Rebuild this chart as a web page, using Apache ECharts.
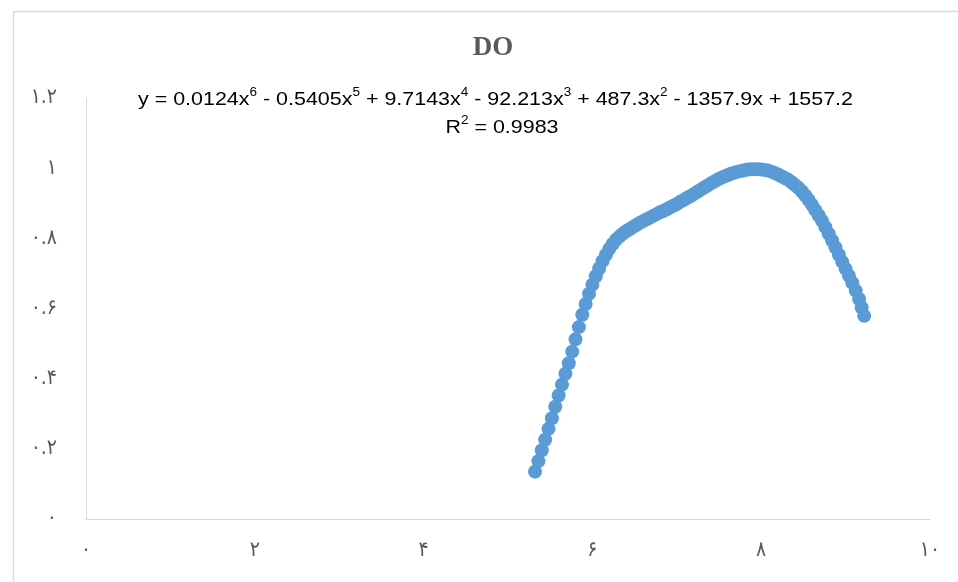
<!DOCTYPE html>
<html>
<head>
<meta charset="utf-8">
<script src="https://cdn.jsdelivr.net/npm/echarts@6/dist/echarts.min.js"></script>
<style>html,body{margin:0;padding:0;background:#fff}#c{width:958px;height:582px}</style>
</head>
<body>
<div id="c"></div>
<script>
var titleText = 'DO';
// trendline equation: [coefficient text, power] pairs
var eqTerms = [['y = 0.0124x', '6'], [' - 0.5405x', '5'], [' + 9.7143x', '4'], [' - 92.213x', '3'], [' + 487.3x', '2'], [' - 1357.9x + 1557.2', '']];
var r2Terms = [['R', '2'], [' = 0.9983', '']];
var xTicks = [0, 2, 4, 6, 8, 10];
var yTicks = [0, 0.2, 0.4, 0.6, 0.8, 1, 1.2];
var xValues = [5.32,5.36,5.40,5.44,5.48,5.52,5.56,5.60,5.64,5.68,5.72,5.76,5.80,5.84,5.88,5.92,5.96,6.00,6.04,6.08,6.12,6.16,6.20,6.24,6.28,6.32,6.36,6.40,6.44,6.48,6.52,6.56,6.60,6.64,6.68,6.72,6.76,6.80,6.84,6.88,6.92,6.96,7.00,7.04,7.08,7.12,7.16,7.20,7.24,7.28,7.32,7.36,7.40,7.44,7.48,7.52,7.56,7.60,7.64,7.68,7.72,7.76,7.80,7.84,7.88,7.92,7.96,8.00,8.04,8.08,8.12,8.16,8.20,8.24,8.28,8.32,8.36,8.40,8.44,8.48,8.52,8.56,8.60,8.64,8.68,8.72,8.76,8.80,8.84,8.88,8.92,8.96,9.00,9.04,9.08,9.12,9.16,9.19,9.22];
var doValues = [0.135,0.165,0.196,0.226,0.257,0.287,0.320,0.352,0.383,0.414,0.444,0.477,0.512,0.547,0.582,0.613,0.642,0.668,0.692,0.714,0.735,0.753,0.770,0.784,0.796,0.805,0.813,0.820,0.826,0.832,0.838,0.844,0.849,0.854,0.859,0.864,0.869,0.874,0.878,0.883,0.888,0.893,0.898,0.904,0.909,0.915,0.920,0.926,0.932,0.938,0.944,0.950,0.956,0.961,0.967,0.972,0.976,0.980,0.984,0.987,0.990,0.992,0.994,0.996,0.997,0.997,0.997,0.996,0.995,0.993,0.990,0.986,0.982,0.977,0.972,0.967,0.960,0.952,0.944,0.934,0.923,0.910,0.896,0.881,0.866,0.850,0.832,0.813,0.794,0.774,0.753,0.733,0.713,0.693,0.673,0.651,0.627,0.603,0.579];

var faDigits = ['۰','۱','۲','۳','۴','۵','۶','۷','۸','۹'];
function toFa(v){
  var s = String(Number(v.toFixed(2)));
  return s.replace(/[0-9]/g, function(d){ return faDigits[+d]; });
}
var points = xValues.map(function(x,i){ return [x, doValues[i]]; });

var MAIN = 19, SUP = 12, EQFONT = 'Liberation Sans';
var ctx = document.createElement('canvas').getContext('2d');
function richOf(terms){
  var s = '', w = 0;
  terms.forEach(function(t){
    s += '{m|' + t[0] + '}';
    ctx.font = MAIN + 'px "' + EQFONT + '"'; w += ctx.measureText(t[0]).width;
    if (t[1]) { s += '{s|' + t[1] + '}'; ctx.font = SUP + 'px "' + EQFONT + '"'; w += ctx.measureText(t[1]).width; }
  });
  return {text: s, width: w};
}
var eq = richOf(eqTerms), r2 = richOf(r2Terms);
var eqScale = 715 / eq.width;
var richStyles = {
  m: {fontFamily: EQFONT, fontSize: MAIN, color: '#404040', lineHeight: 22, verticalAlign: 'bottom'},
  s: {fontFamily: EQFONT, fontSize: SUP, color: '#404040', lineHeight: 14, verticalAlign: 'top'}
};

var chart = echarts.init(document.getElementById('c'), null, {renderer:'canvas'});
chart.setOption({
  animation: false,
  backgroundColor: '#fff',
  grid: {left: 86, right: 28, top: 98, bottom: 63, containLabel: false},
  xAxis: {
    type: 'value', min: xTicks[0], max: xTicks[xTicks.length-1], interval: 2,
    axisLine: {show: true, lineStyle: {color: '#d9d9d9', width: 1}},
    axisTick: {show: false}, splitLine: {show: false},
    axisLabel: {margin: 21, fontFamily: 'DejaVu Sans Condensed', fontSize: 21, color: '#595959', formatter: toFa}
  },
  yAxis: {
    type: 'value', min: yTicks[0], max: yTicks[yTicks.length-1], interval: 0.2,
    axisLine: {show: true, lineStyle: {color: '#d9d9d9', width: 1}},
    axisTick: {show: false}, splitLine: {show: false},
    axisLabel: {margin: 29, fontFamily: 'DejaVu Sans Condensed', fontSize: 21, color: '#595959', formatter: toFa}
  },
  graphic: [
    {type: 'rect', shape: {x: 13.5, y: 11.5, width: 980, height: 600},
     style: {fill: 'none', stroke: '#d9d9d9', lineWidth: 1.5}, silent: true},
    {type: 'text', x: 493, y: 48, silent: true,
     style: {text: titleText, align: 'center', verticalAlign: 'middle', font: 'bold 27px "Liberation Serif"', fill: '#595959'}},
    {type: 'text', x: 495.5, y: 98, scaleX: eqScale, silent: true,
     style: {text: eq.text, align: 'center', verticalAlign: 'middle', rich: richStyles}},
    {type: 'text', x: 502, y: 126, scaleX: eqScale, silent: true,
     style: {text: r2.text, align: 'center', verticalAlign: 'middle', rich: richStyles}}
  ],
  series: [{
    type: 'scatter', data: points, symbol: 'circle', symbolSize: 14,
    itemStyle: {color: '#5B9BD5', opacity: 1, borderWidth: 0},
    emphasis: {disabled: true}
  }]
});
</script>
</body>
</html>
